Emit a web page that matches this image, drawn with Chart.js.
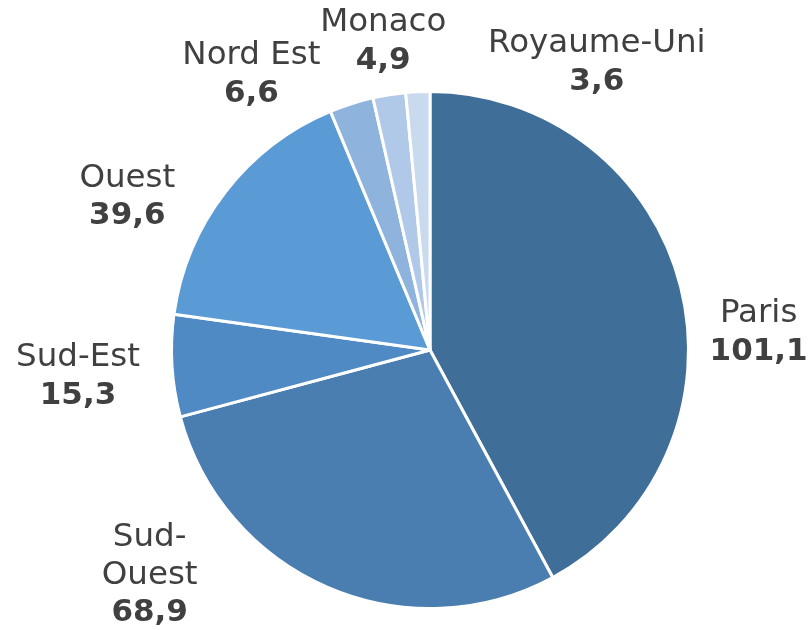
<!DOCTYPE html>
<html>
<head>
<meta charset="utf-8">
<script src="https://cdn.jsdelivr.net/npm/chart.js@4"></script>
<style>
  html, body { margin: 0; padding: 0; background: #fff; }
  #wrap { width: 812px; height: 630px; position: relative; }
</style>
</head>
<body>
<div id="wrap"><canvas id="chart"></canvas></div>
<script>
// --- Data ---
const regions = ['Paris', 'Sud-Ouest', 'Sud-Est', 'Ouest', 'Nord Est', 'Monaco', 'Royaume-Uni'];
const values = [101.1, 68.9, 15.3, 39.6, 6.6, 4.9, 3.6];
const labelLines = [['Paris'], ['Sud-', 'Ouest'], ['Sud-Est'], ['Ouest'], ['Nord Est'], ['Monaco'], ['Royaume-Uni']];
const sliceColors = ['#3F6E99', '#4A7EB0', '#4F8AC4', '#5B9BD5', '#8EB4DE', '#B1C9E8', '#C9D9EE'];

// label nudges from the outer edge of each slice
const labelOffsets = [[78, 46], [-178, -12], [-94, 11], [-98, 5], [-100, -29], [-6, -53], [179, -29]];

const fmt = v => v.toFixed(1).replace('.', ',');

const outsideLabels = {
    id: 'outsideLabels',
    afterDatasetsDraw(chart) {
        const ctx = chart.ctx;
        const meta = chart.getDatasetMeta(0);
        const lh = 38;
        ctx.save();
        ctx.fillStyle = '#404040';
        ctx.textAlign = 'center';
        ctx.textBaseline = 'middle';
        meta.data.forEach((arc, i) => {
            const mid = (arc.startAngle + arc.endAngle) / 2;
            const x = arc.x + Math.cos(mid) * arc.outerRadius + labelOffsets[i][0];
            const y = arc.y + Math.sin(mid) * arc.outerRadius + labelOffsets[i][1];
            const lines = labelLines[i].map(t => ({ t, bold: false }));
            lines.push({ t: fmt(values[i]), bold: true });
            let yy = y - (lines.length - 1) * lh / 2;
            lines.forEach(l => {
                ctx.font = l.bold ? 'bold 31px "DejaVu Sans", sans-serif' : '32.5px "DejaVu Sans", sans-serif';
                ctx.fillText(l.t, x, yy);
                yy += lh;
            });
        });
        ctx.restore();
    }
};

new Chart(document.getElementById('chart'), {
    type: 'pie',
    data: {
        labels: regions,
        datasets: [{
            data: values,
            backgroundColor: sliceColors,
            borderColor: '#ffffff',
            borderWidth: 3
        }]
    },
    options: {
        responsive: true,
        maintainAspectRatio: false,
        animation: false,
        layout: { padding: { top: 90, bottom: 20, left: 48, right: 0 } },
        plugins: {
            legend: { display: false },
            tooltip: { enabled: false }
        }
    },
    plugins: [outsideLabels]
});
</script>
</body>
</html>
